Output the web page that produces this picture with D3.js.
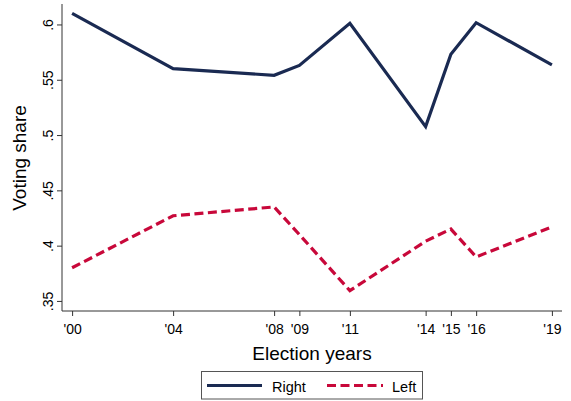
<!DOCTYPE html>
<html>
<head>
<meta charset="utf-8">
<script src="https://cdn.jsdelivr.net/npm/d3@7"></script>
<style>
  html, body { margin: 0; padding: 0; background: #fff; }
  svg { display: block; font-family: "Liberation Sans", Arial, sans-serif; }
</style>
</head>
<body>
<svg id="chart" width="571" height="401"></svg>
<script>
// Election years and vote shares by bloc
const years = [2000, 2004, 2008, 2009, 2011, 2014, 2015, 2016, 2019];
const rightShare = [0.610, 0.560, 0.554, 0.563, 0.601, 0.5076, 0.573, 0.6016, 0.5634];
const leftShare  = [0.380, 0.427, 0.435, 0.410, 0.3593, 0.404, 0.415, 0.3898, 0.4169];
const yTicks = [0.35, 0.4, 0.45, 0.5, 0.55, 0.6];
const yTickLabels = [".35", ".4", ".45", ".5", ".55", ".6"];
const seriesNames = ["Right", "Left"];

const colors = { Right: "#1a2a52", Left: "#c8083a" };
const dashes = { Right: null, Left: "9,4.5" };

const svg = d3.select("#chart");
const plot = { left: 62, right: 562, top: 4, bottom: 311 };

const x = d3.scaleLinear().domain([1999.6, 2019.4]).range([plot.left, plot.right]);
const y = d3.scaleLinear().domain([0.3409, 0.6185]).range([plot.bottom, plot.top]);

// Axes
const xAxis = d3.axisBottom(x)
  .tickValues(years)
  .tickSize(5)
  .tickPadding(8)
  .tickFormat(d => "'" + String(d).slice(2));

const yAxis = d3.axisLeft(y)
  .tickValues(yTicks)
  .tickSize(5)
  .tickFormat((d, i) => yTickLabels[i]);

const gx = svg.append("g")
  .attr("transform", `translate(0,${plot.bottom})`)
  .call(xAxis);
gx.select(".domain").attr("d", `M${plot.left},0H${plot.right}`);
gx.selectAll("text").attr("font-size", 14).attr("font-family", "Liberation Sans, Arial, sans-serif").attr("fill", "#000");

const gy = svg.append("g")
  .attr("transform", `translate(${plot.left},0)`)
  .call(yAxis);
gy.select(".domain").attr("d", `M0,${plot.top}V${plot.bottom}`);
gy.selectAll(".tick text")
  .attr("font-size", 14)
  .attr("font-family", "Liberation Sans, Arial, sans-serif")
  .attr("fill", "#000")
  .attr("x", null).attr("dy", null)
  .attr("text-anchor", "middle")
  .attr("transform", "translate(-9.5,0) rotate(-90)");

svg.selectAll(".domain, .tick line").attr("stroke", "#333").attr("stroke-width", 1);

// Series lines
const line = d3.line().x(d => x(d[0])).y(d => y(d[1]));
const series = [
  { name: "Right", values: years.map((yr, i) => [yr, rightShare[i]]) },
  { name: "Left", values: years.map((yr, i) => [yr, leftShare[i]]) }
];

svg.append("g").selectAll("path")
  .data(series)
  .join("path")
  .attr("d", d => line(d.values))
  .attr("fill", "none")
  .attr("stroke", d => colors[d.name])
  .attr("stroke-width", 3.2)
  .attr("stroke-linejoin", "miter")
  .attr("stroke-dasharray", d => dashes[d.name]);

// Axis titles
svg.append("text")
  .attr("x", 312).attr("y", 359.5)
  .attr("text-anchor", "middle")
  .attr("font-size", 19)
  .text("Election years");

svg.append("text")
  .attr("transform", "translate(25.5,158) rotate(-90)")
  .attr("text-anchor", "middle")
  .attr("font-size", 19)
  .text("Voting share");

// Legend
const legend = svg.append("g");
legend.append("rect")
  .attr("x", 201.5).attr("y", 371.5)
  .attr("width", 221).attr("height", 27.5)
  .attr("fill", "#fff")
  .attr("stroke", "#555").attr("stroke-width", 1);

const legendItems = [
  { name: seriesNames[0], x1: 207, x2: 262, tx: 272 },
  { name: seriesNames[1], x1: 327, x2: 383, tx: 392 }
];
legendItems.forEach(it => {
  legend.append("line")
    .attr("x1", it.x1).attr("x2", it.x2)
    .attr("y1", 385.5).attr("y2", 385.5)
    .attr("stroke", colors[it.name])
    .attr("stroke-width", 3.2)
    .attr("stroke-dasharray", dashes[it.name]);
  legend.append("text")
    .attr("x", it.tx).attr("y", 391.5)
    .attr("font-size", 14.5)
    .text(it.name);
});
</script>
</body>
</html>
